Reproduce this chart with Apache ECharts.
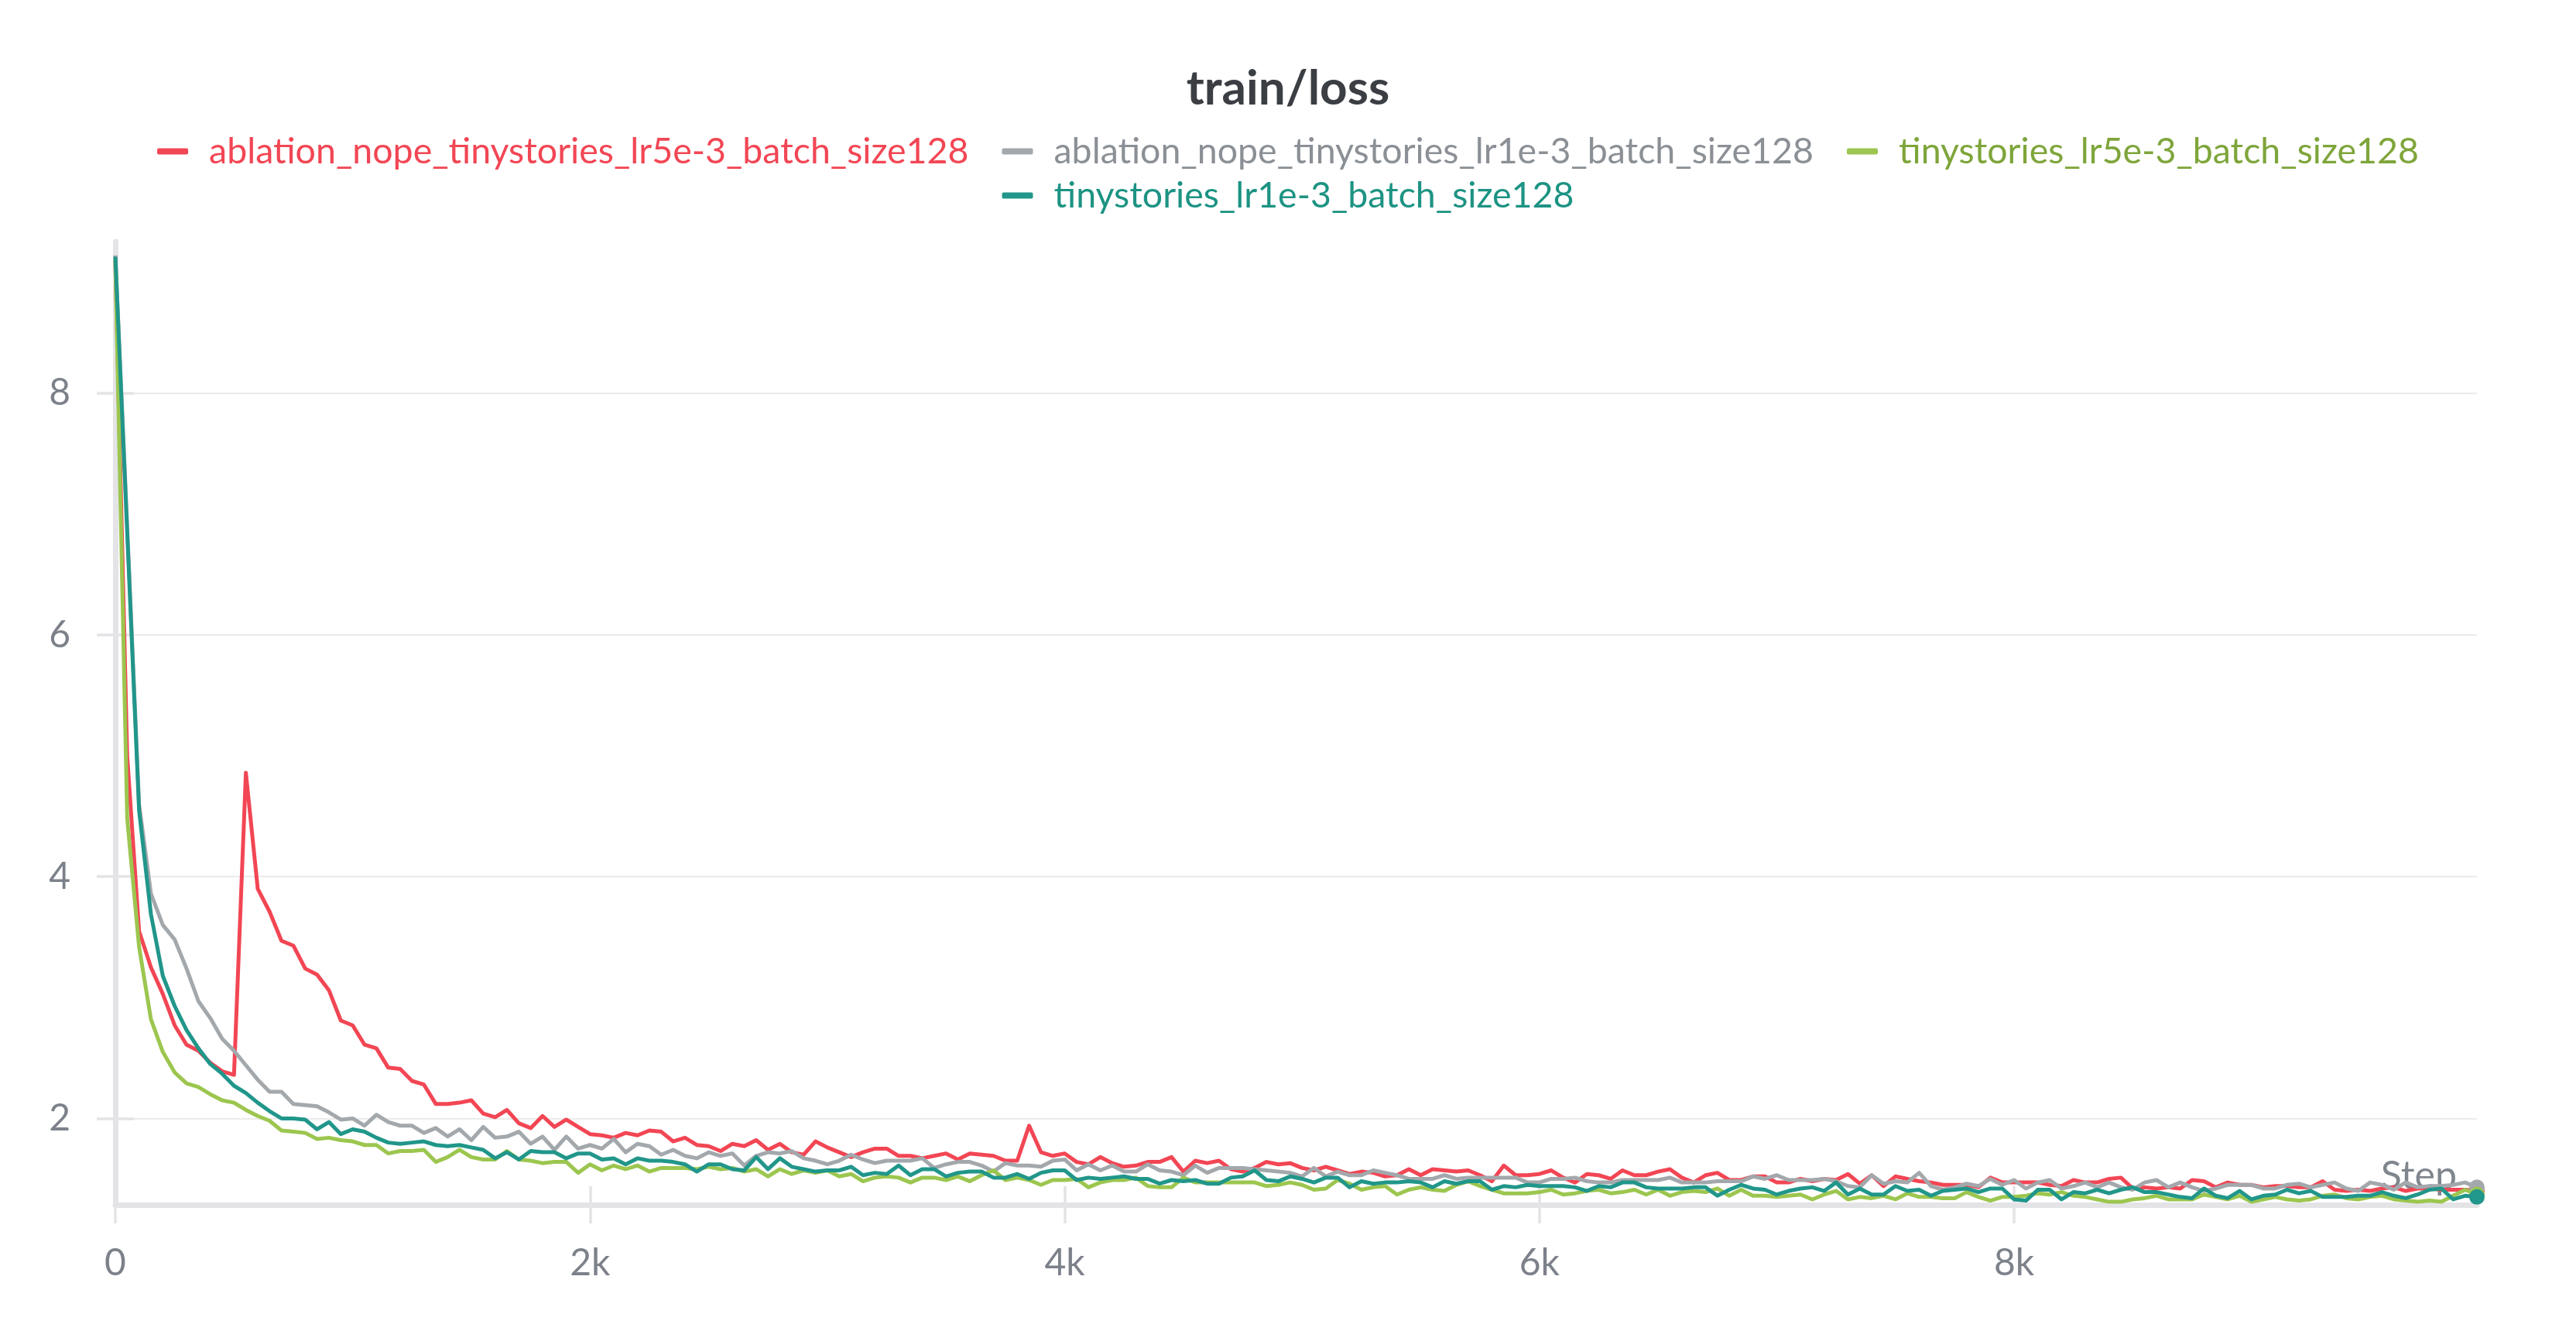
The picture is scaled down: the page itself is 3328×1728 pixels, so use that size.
<!DOCTYPE html>
<html>
<head>
<meta charset="utf-8">
<script src="https://cdn.jsdelivr.net/npm/echarts@6/dist/echarts.min.js"></script>
<style>
html,body{margin:0;padding:0;background:#fff;}
#chart{width:3328px;height:1728px;}
</style>
</head>
<body>
<div id="chart"></div>
<script>
// ---- data (step logged every 50) ----
const STEP_EVERY = 50;
const SERIES_NAMES = [
  'ablation_nope_tinystories_lr5e-3_batch_size128',
  'ablation_nope_tinystories_lr1e-3_batch_size128',
  'tinystories_lr5e-3_batch_size128',
  'tinystories_lr1e-3_batch_size128'
];
const X_TICKS = [0, 2000, 4000, 6000, 8000];
const Y_TICKS = [2, 4, 6, 8];

const RED_LOSS = [
  9.1,5.0,3.55,3.25,3.03,2.77,2.61,2.56,2.46,2.39,2.36,4.86,3.90,3.71,3.47,3.43,3.24,3.19,3.06,2.81,2.77,2.61,2.58,2.42,2.41,2.31,2.28,2.12,2.12,2.13,2.15,2.04,2.01,2.07,1.96,1.92,2.02,1.93,1.99,1.93,
  1.87,1.86,1.84,1.88,1.86,1.90,1.89,1.81,1.84,1.78,1.77,1.73,1.79,1.77,1.82,1.74,1.79,1.72,1.70,1.81,1.76,1.72,1.68,1.72,1.75,1.75,1.69,1.69,1.67,1.69,1.71,1.66,1.71,1.70,1.69,1.65,1.65,1.94,1.72,1.69,
  1.71,1.64,1.62,1.68,1.63,1.60,1.61,1.64,1.64,1.68,1.56,1.65,1.63,1.65,1.58,1.56,1.59,1.64,1.62,1.63,1.59,1.57,1.60,1.57,1.54,1.56,1.55,1.52,1.53,1.58,1.53,1.58,1.57,1.56,1.57,1.53,1.48,1.61,1.53,1.53,
  1.54,1.57,1.51,1.47,1.54,1.53,1.50,1.57,1.53,1.53,1.56,1.58,1.51,1.47,1.53,1.55,1.49,1.49,1.52,1.52,1.47,1.47,1.50,1.48,1.50,1.49,1.54,1.46,1.53,1.44,1.52,1.50,1.48,1.47,1.45,1.45,1.45,1.43,1.51,1.47,
  1.47,1.47,1.47,1.45,1.44,1.49,1.47,1.47,1.50,1.51,1.42,1.43,1.42,1.43,1.42,1.49,1.48,1.43,1.47,1.45,1.45,1.43,1.44,1.44,1.43,1.43,1.48,1.41,1.40,1.41,1.40,1.42,1.43,1.40,1.42,1.42,1.41,1.41,1.41,1.40
];
const GRAY_LOSS = [
  9.14,6.9,4.6,3.86,3.6,3.48,3.24,2.97,2.83,2.66,2.56,2.44,2.32,2.22,2.22,2.12,2.11,2.10,2.05,1.99,2.00,1.94,2.03,1.97,1.94,1.94,1.88,1.92,1.85,1.91,1.82,1.93,1.84,1.85,1.89,1.79,1.85,1.74,1.85,1.75,
  1.78,1.75,1.83,1.72,1.79,1.77,1.70,1.74,1.69,1.67,1.72,1.69,1.71,1.61,1.69,1.72,1.71,1.73,1.67,1.65,1.62,1.65,1.70,1.66,1.63,1.65,1.65,1.65,1.67,1.59,1.62,1.64,1.64,1.61,1.56,1.63,1.61,1.61,1.60,1.65,
  1.66,1.57,1.62,1.57,1.61,1.56,1.56,1.62,1.57,1.56,1.53,1.61,1.55,1.59,1.59,1.59,1.58,1.57,1.56,1.55,1.52,1.59,1.52,1.56,1.53,1.53,1.57,1.55,1.53,1.50,1.50,1.50,1.53,1.50,1.51,1.51,1.51,1.51,1.51,1.47,
  1.47,1.50,1.50,1.51,1.48,1.47,1.47,1.49,1.49,1.49,1.49,1.51,1.47,1.47,1.47,1.48,1.48,1.48,1.52,1.50,1.53,1.49,1.49,1.49,1.50,1.48,1.44,1.43,1.53,1.46,1.48,1.47,1.55,1.44,1.41,1.43,1.46,1.44,1.50,1.45,
  1.49,1.42,1.47,1.49,1.42,1.44,1.47,1.43,1.47,1.43,1.41,1.47,1.49,1.43,1.47,1.43,1.40,1.42,1.45,1.45,1.45,1.42,1.42,1.45,1.46,1.43,1.45,1.47,1.42,1.40,1.47,1.45,1.41,1.47,1.43,1.44,1.44,1.45,1.47,1.43
];
const GREEN_LOSS = [
  9.1,4.48,3.42,2.82,2.55,2.38,2.29,2.26,2.20,2.15,2.13,2.07,2.02,1.98,1.90,1.89,1.88,1.83,1.84,1.82,1.81,1.78,1.78,1.71,1.73,1.73,1.74,1.64,1.68,1.74,1.68,1.66,1.66,1.73,1.66,1.65,1.63,1.64,1.64,1.55,
  1.62,1.57,1.61,1.58,1.61,1.56,1.59,1.59,1.59,1.58,1.60,1.58,1.59,1.56,1.58,1.52,1.58,1.54,1.57,1.55,1.57,1.52,1.54,1.48,1.51,1.52,1.51,1.47,1.51,1.51,1.49,1.52,1.48,1.53,1.57,1.49,1.51,1.49,1.45,1.49,
  1.49,1.50,1.43,1.47,1.49,1.49,1.51,1.44,1.43,1.43,1.51,1.47,1.47,1.47,1.47,1.47,1.47,1.44,1.45,1.47,1.45,1.41,1.42,1.49,1.46,1.41,1.43,1.44,1.37,1.41,1.43,1.41,1.40,1.45,1.48,1.44,1.41,1.38,1.38,1.38,
  1.39,1.41,1.37,1.38,1.40,1.41,1.38,1.39,1.41,1.37,1.41,1.36,1.39,1.40,1.39,1.42,1.36,1.41,1.36,1.36,1.35,1.36,1.37,1.33,1.37,1.40,1.33,1.35,1.34,1.36,1.33,1.38,1.35,1.35,1.34,1.34,1.39,1.35,1.32,1.35,
  1.35,1.36,1.38,1.37,1.39,1.36,1.35,1.33,1.31,1.31,1.33,1.34,1.36,1.33,1.33,1.33,1.37,1.35,1.33,1.36,1.31,1.33,1.35,1.33,1.32,1.33,1.36,1.37,1.34,1.33,1.35,1.36,1.33,1.32,1.31,1.32,1.31,1.36,1.41,1.37
];
const TEAL_LOSS = [
  9.13,6.85,4.55,3.69,3.18,2.93,2.73,2.58,2.45,2.37,2.27,2.21,2.13,2.06,2.00,2.00,1.99,1.91,1.97,1.87,1.91,1.89,1.84,1.80,1.79,1.80,1.81,1.78,1.77,1.78,1.76,1.74,1.67,1.72,1.66,1.73,1.72,1.72,1.67,1.71,
  1.71,1.66,1.67,1.62,1.67,1.65,1.65,1.64,1.62,1.56,1.62,1.62,1.58,1.57,1.68,1.58,1.67,1.60,1.58,1.56,1.57,1.57,1.60,1.53,1.55,1.54,1.61,1.53,1.58,1.58,1.52,1.55,1.56,1.56,1.51,1.51,1.54,1.50,1.55,1.57,
  1.57,1.49,1.51,1.50,1.51,1.52,1.50,1.50,1.46,1.49,1.48,1.49,1.46,1.46,1.51,1.52,1.57,1.49,1.48,1.52,1.50,1.47,1.51,1.51,1.43,1.48,1.46,1.47,1.47,1.48,1.47,1.43,1.48,1.46,1.48,1.48,1.41,1.44,1.43,1.45,
  1.44,1.44,1.44,1.43,1.40,1.44,1.43,1.47,1.47,1.43,1.42,1.42,1.42,1.43,1.43,1.36,1.41,1.45,1.42,1.41,1.37,1.40,1.42,1.43,1.40,1.47,1.37,1.42,1.37,1.37,1.44,1.40,1.41,1.36,1.40,1.41,1.42,1.39,1.42,1.42,
  1.33,1.32,1.41,1.41,1.33,1.39,1.38,1.41,1.38,1.41,1.43,1.39,1.39,1.37,1.35,1.34,1.42,1.36,1.34,1.40,1.33,1.36,1.37,1.41,1.38,1.40,1.35,1.35,1.35,1.36,1.36,1.39,1.36,1.34,1.37,1.41,1.42,1.33,1.36,1.35
];

const STEPS = RED_LOSS.map((_, i) => i * STEP_EVERY);

// ---- styling ----
const LINE_COLORS = ['#f24654', '#a3a8ac', '#9cc64f', '#21968a'];
const TEXT_COLORS = ['#f24654', '#8b9096', '#7ea53a', '#1d9383'];
const FONT = 'Lato';
const AXIS_GRAY = '#e4e4e7';
const LABEL_GRAY = '#7c818a';

const chart = echarts.init(document.getElementById('chart'), null, {renderer: 'canvas'});

function mkSeries(idx, values) {
  const last = values.length - 1;
  return {
    name: SERIES_NAMES[idx],
    type: 'line',
    xAxisIndex: 0,
    yAxisIndex: 0,
    data: STEPS.map((s, i) => [s, values[i]]),
    showSymbol: true,
    showAllSymbol: true,
    symbol: (v, p) => (p.dataIndex === last ? 'circle' : 'none'),
    symbolSize: 20,
    lineStyle: {width: 5, color: LINE_COLORS[idx], join: 'round'},
    itemStyle: {color: LINE_COLORS[idx]},
    emphasis: {disabled: true},
    z: 2 + idx
  };
}

const legendText = {fontFamily: FONT, fontSize: 46.5, padding: [0, 0, 0, 22]};

const option = {
  animation: false,
  backgroundColor: '#ffffff',
  title: {
    text: 'train/loss',
    left: 'center',
    top: 79,
    textStyle: {fontFamily: FONT, fontWeight: 'bold', fontSize: 62, color: '#3b3e43'}
  },
  legend: [
    {
      top: 167, left: 'center', icon: 'roundRect', itemWidth: 40, itemHeight: 8, itemGap: 43,
      selectedMode: false,
      textStyle: legendText,
      data: [0, 1, 2].map(i => ({name: SERIES_NAMES[i], textStyle: {color: TEXT_COLORS[i]}}))
    },
    {
      top: 224, left: 'center', icon: 'roundRect', itemWidth: 40, itemHeight: 8, itemGap: 43,
      selectedMode: false,
      textStyle: legendText,
      data: [3].map(i => ({name: SERIES_NAMES[i], textStyle: {color: TEXT_COLORS[i]}}))
    }
  ],
  grid: {left: 149, right: 128, top: 312, bottom: 172, containLabel: false},
  xAxis: [
    {
      type: 'value', min: 0, max: 9950,
      name: 'Step', nameLocation: 'end', nameGap: -26,
      nameTextStyle: {fontFamily: FONT, fontSize: 50, color: '#80868e', align: 'right', verticalAlign: 'bottom', padding: [0, 0, 12, 0]},
      axisLine: {show: true, lineStyle: {color: AXIS_GRAY, width: 7}},
      axisTick: {show: true, length: 24, lineStyle: {color: AXIS_GRAY, width: 3.5}, customValues: X_TICKS},
      axisLabel: {
        customValues: X_TICKS, margin: 52,
        fontFamily: FONT, fontSize: 48, color: LABEL_GRAY,
        formatter: v => (v === 0 ? '0' : (v / 1000) + 'k')
      },
      splitLine: {show: false}
    },
    {
      type: 'value', min: 0, max: 9950, position: 'bottom',
      axisLine: {show: false},
      axisTick: {show: true, inside: true, length: 24, lineStyle: {color: AXIS_GRAY, width: 3.5}, customValues: X_TICKS.filter(v => v > 0)},
      axisLabel: {show: false},
      splitLine: {show: false}
    }
  ],
  yAxis: [
    {
      type: 'value', min: 1.285, max: 9.255,
      axisLine: {show: true, lineStyle: {color: AXIS_GRAY, width: 7}},
      axisTick: {show: true, length: 24, lineStyle: {color: AXIS_GRAY, width: 3.5}, customValues: Y_TICKS},
      axisLabel: {
        customValues: Y_TICKS, margin: 58,
        fontFamily: FONT, fontSize: 48, color: LABEL_GRAY
      },
      splitLine: {show: true, lineStyle: {color: '#ebebec', width: 2}}
    },
    {
      type: 'value', min: 1.285, max: 9.255, position: 'left',
      axisLine: {show: false},
      axisTick: {show: true, inside: true, length: 24, lineStyle: {color: AXIS_GRAY, width: 3.5}, customValues: Y_TICKS},
      axisLabel: {show: false},
      splitLine: {show: false}
    }
  ],
  series: [
    mkSeries(0, RED_LOSS),
    mkSeries(1, GRAY_LOSS),
    mkSeries(2, GREEN_LOSS),
    mkSeries(3, TEAL_LOSS)
  ]
};

chart.setOption(option);
</script>
</body>
</html>
